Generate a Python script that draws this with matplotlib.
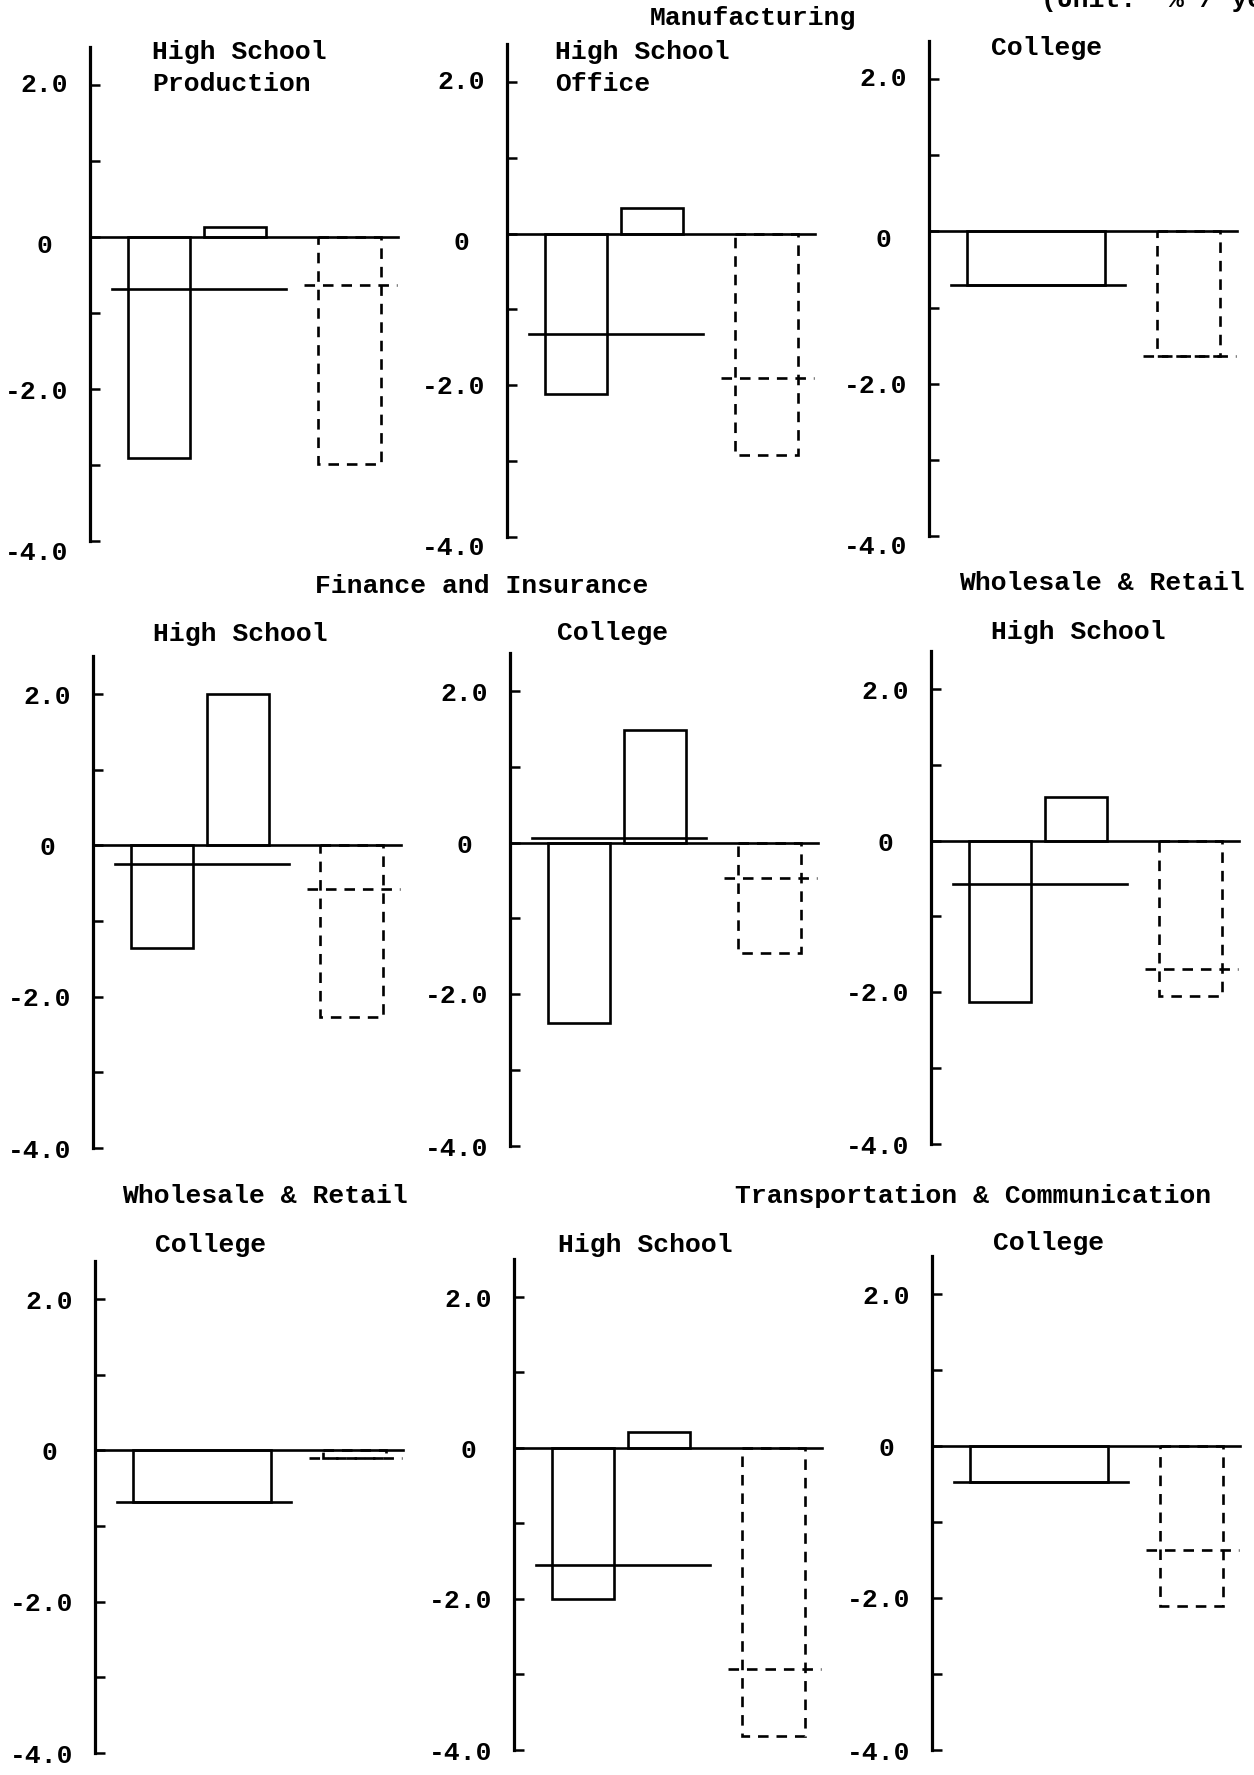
import matplotlib
matplotlib.use('Agg')
import matplotlib.pyplot as plt

plt.rcParams['font.family'] = ['Liberation Mono', 'DejaVu Sans Mono']
plt.rcParams['font.weight'] = 'bold'
plt.rcParams['font.size'] = 19

W, H, DPI = 1254, 1775, 100

# ---- data (% / year) ----
sub_titles = ['High School\nProduction', 'High School\nOffice', 'College',
              'High School', 'College', 'High School',
              'College', 'High School', 'College']
bar_first = [-2.91, -2.11, None, -1.36, -2.38, -2.13, None, -2.00, None]
bar_second = [0.13, 0.34, None, 2.00, 1.49, 0.58, None, 0.21, None]
solid_level = [-0.69, -1.32, -0.71, -0.25, 0.06, -0.57, -0.69, -1.55, -0.48]
dashed_bar = [-2.99, -2.92, -1.64, -2.27, -1.46, -2.05, -0.10, -3.82, -2.11]
dashed_level = [-0.63, -1.90, -1.64, -0.58, -0.46, -1.69, -0.10, -2.93, -1.37]

sector_titles = ['Manufacturing', 'Finance and Insurance', 'Wholesale & Retail',
                 'Wholesale & Retail', 'Transportation & Communication']
unit_note = '(Unit:  % / year)'
tick_values = [2.0, 0.0, -2.0, -4.0]
tick_labels = ['2.0', '0', '-2.0', '-4.0']

# ---- layout (pixels on the page) ----
# axis x, y of top (2.5), y of -4.0
panel_box = [(90, 47, 541), (507, 44, 537), (929, 41, 536),
             (93, 656, 1148), (510, 653, 1146), (931, 651, 1144),
             (95, 1261, 1753), (514, 1259, 1750), (932, 1256, 1750)]
sub_pos = [(152, 59), (555, 59), (991, 55),
           (153, 641), (557, 640), (991, 639),
           (155, 1252), (558, 1252), (993, 1250)]
sector_pos = [(650, 25), (315, 593), (959, 590), (122, 1203), (735, 1203)]
label_drop = [[0, 9, 3, 12], [0, 9, 2, 11], [0, 9, 2, 11]] + [[3, 3, 2, 3]] * 6

AX_W = 312
LW = 1.9
DASH = (0, (4, 3))

fig = plt.figure(figsize=(W / DPI, H / DPI), dpi=DPI)

for i in range(9):
    x0, ytop, ybot = panel_box[i]
    ax = fig.add_axes([x0 / W, 1 - ybot / H, AX_W / W, (ybot - ytop) / H])
    ax.set_xlim(0, AX_W)
    ax.set_ylim(-4.0, 2.5)
    for s in ['top', 'right', 'bottom']:
        ax.spines[s].set_visible(False)
    ax.spines['left'].set_linewidth(2.3)
    ax.set_xticks([])
    ax.set_yticks([-4, -3, -2, -1, 0, 1, 2])
    ax.tick_params(axis='y', direction='in', length=7, width=1.8,
                   labelleft=False)
    ax.patch.set_alpha(0)

    # zero line
    ax.plot([0, 308], [0, 0], color='black', lw=LW)

    if bar_first[i] is None:
        # one box spanning both solid bars
        ax.bar(107, solid_level[i], width=138, fill=False,
               edgecolor='black', lw=LW)
    else:
        ax.bar(69, bar_first[i], width=62, fill=False, edgecolor='black', lw=LW)
        ax.bar(145, bar_second[i], width=62, fill=False, edgecolor='black', lw=LW)
    ax.plot([22, 196], [solid_level[i]] * 2, color='black', lw=LW)

    ax.bar(259, dashed_bar[i], width=63, fill=False, edgecolor='black',
           lw=LW, linestyle=DASH)
    ax.plot([214, 307], [dashed_level[i]] * 2, color='black', lw=LW,
            linestyle=DASH)

    for v, lbl, dy in zip(tick_values, tick_labels, label_drop[i]):
        gap = 38 if lbl == '0' else 22
        ax.annotate(lbl, xy=(0, v), xycoords=('axes fraction', 'data'),
                    xytext=(-gap, -dy), textcoords='offset pixels',
                    ha='right', va='center')

    sx, sy = sub_pos[i]
    for k, line in enumerate(sub_titles[i].split('\n')):
        fig.text(sx / W, 1 - (sy + 32 * k) / H, line, ha='left', va='baseline')

for title, (tx, ty) in zip(sector_titles, sector_pos):
    fig.text(tx / W, 1 - ty / H, title, ha='left', va='baseline')

fig.text(1041 / W, 1 - 7 / H, unit_note, ha='left', va='baseline')

fig.savefig('out.png', dpi=DPI, facecolor='white')
